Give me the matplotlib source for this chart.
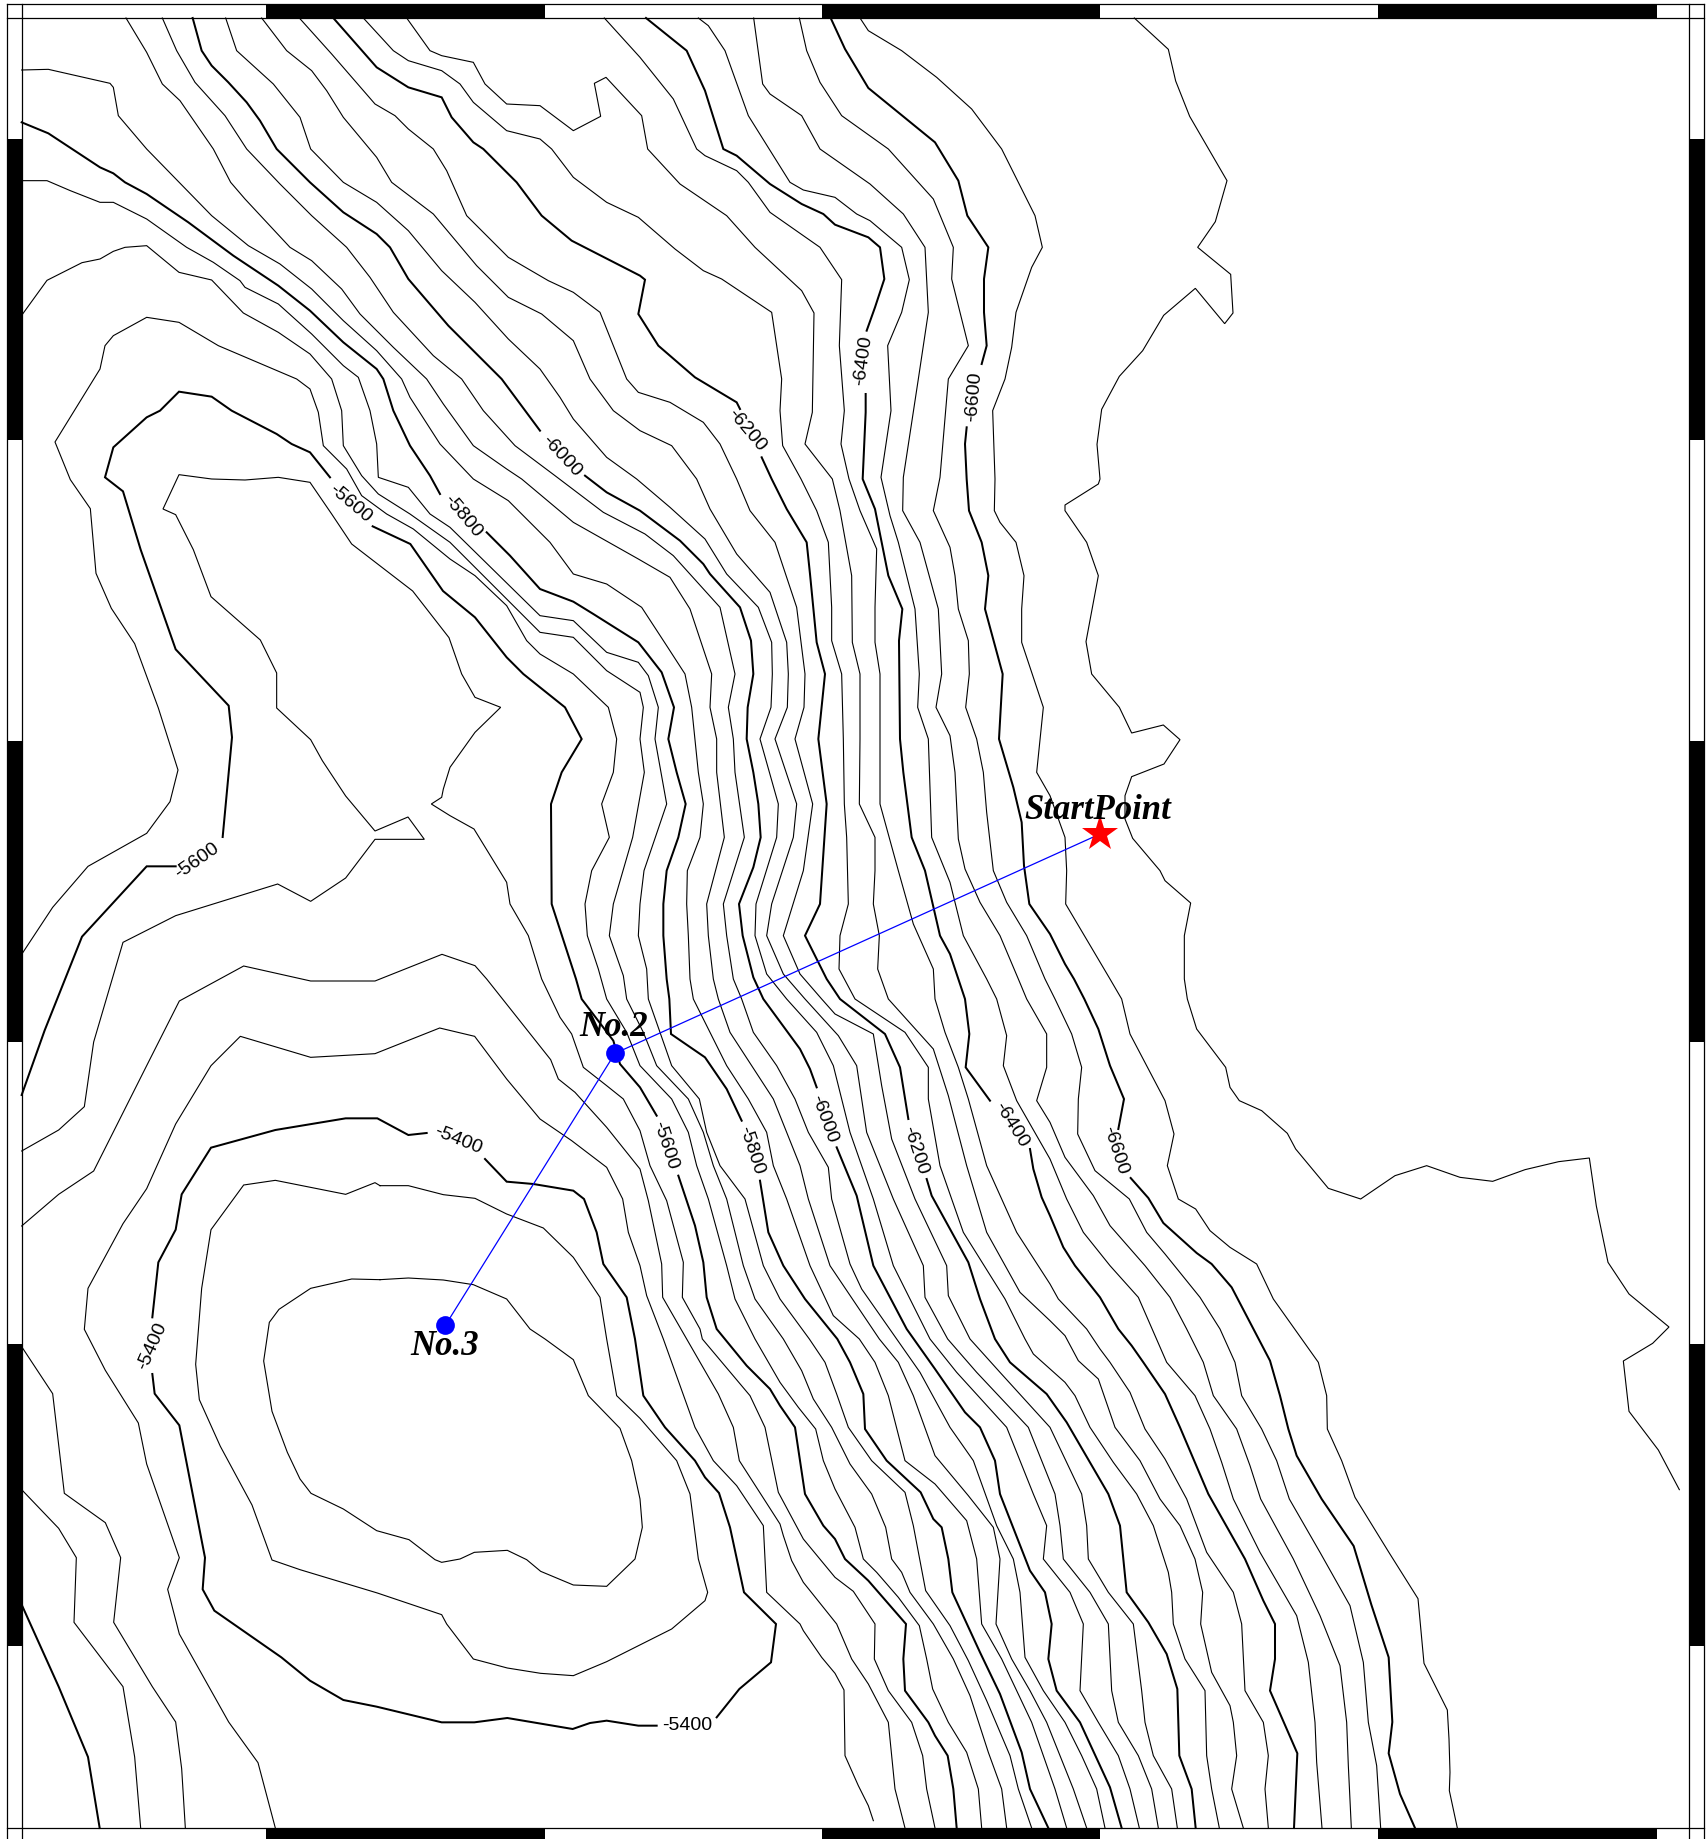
import numpy as np
import matplotlib
matplotlib.use("Agg")
import matplotlib.pyplot as plt

# map units (y goes down)
W, H = 5121, 5520
GAP = (np.nan, np.nan)

# bold contours, GAP = where the label sits
c_5400 = [(1455,3480),(1520,3548),(1600,3555),(1720,3575),(1752,3600),(1790,3700),(1810,3795),(1880,3895),(1905,4020),
          (1930,4190),(1995,4285),(2085,4385),(2115,4435),(2157,4482),(2190,4585),(2232,4780),(2328,4875),(2313,4990),
          (2218,5070),(2150,5155),GAP,(1970,5180),(1915,5180),(1820,5165),(1770,5172),(1718,5190),(1522,5157),(1423,5170),
          (1325,5170),(1130,5123),(1030,5103),(930,5045),(844,4975),(643,4835),(608,4771),(615,4676),(538,4279),(464,4184),
          (457,4125),GAP,(457,3955),(475,3790),(527,3692),(545,3586),(633,3446),(826,3393),(1037,3358),(1132,3358),(1225,3408),(1280,3402)]
c_5600 = [(65,3288),(134,3094),(246,2813),(440,2602),(527,2602),GAP,(668,2514),(696,2215),(686,2120),(527,1951),(422,1652),
          (369,1477),(315,1435),(340,1345),(440,1255),(480,1235),(537,1178),(635,1193),(695,1235),(830,1305),(875,1335),
          (930,1360),(990,1435),GAP,(1118,1582),(1231,1635),(1329,1776),(1425,1855),(1520,1975),(1570,2025),(1695,2125),
          (1745,2220),(1685,2320),(1653,2415),(1655,2715),(1728,2940),(1745,3000),(1840,3125),(1860,3195),(1920,3265),
          (1970,3350),GAP,(2035,3530),(2085,3680),(2110,3790),(2120,3895),(2150,3990),(2240,4100),(2310,4170),(2340,4220),
          (2385,4285),(2415,4485),(2470,4580),(2505,4620),(2535,4680),(2605,4745),(2718,4875),(2710,4980),(2715,5075),
          (2785,5170),(2805,5210),(2843,5270),(2860,5370),(2870,5487)]
c_5600_sw = [(65,4817),(176,5063),(264,5274),(299,5487)]
c_5800 = [(65,370),(145,403),(300,505),(340,523),(375,550),(440,585),(565,670),(700,770),(835,860),(930,935),(1030,1030),
          (1130,1110),(1150,1140),(1180,1235),(1230,1340),(1290,1430),(1320,1485),GAP,(1460,1600),(1530,1670),(1620,1770),
          (1720,1808),(1780,1845),(1915,1930),(1985,2020),(2022,2125),(2005,2220),(2030,2320),(2057,2415),(2035,2515),
          (2000,2615),(1990,2715),(1990,2810),(2000,2940),(2008,3000),(2013,3105),(2115,3175),(2180,3270),(2225,3365),GAP,
          (2280,3545),(2305,3700),(2350,3800),(2415,3900),(2512,4020),(2550,4090),(2590,4185),(2595,4290),(2660,4385),
          (2762,4480),(2800,4560),(2825,4585),(2845,4680),(2857,4780),(2940,4960),(3000,5085),(3065,5260),(3090,5370),(3145,5487)]
c_6000 = [(578,57),(605,155),(635,200),(685,250),(740,310),(780,365),(830,450),(930,550),(1030,640),(1130,705),(1170,745),
          (1225,840),(1345,980),(1505,1140),(1620,1295),GAP,(1755,1430),(1820,1480),(1920,1535),(2040,1625),(2110,1695),
          (2130,1725),(2220,1825),(2253,1925),(2260,2025),(2243,2125),(2240,2220),(2260,2320),(2275,2415),(2282,2515),
          (2260,2605),(2217,2715),(2228,2810),(2260,2935),(2290,3000),(2400,3150),(2430,3210),(2450,3265),GAP,(2510,3445),
          (2570,3590),(2620,3800),(2720,3990),(2805,4110),(2895,4240),(2940,4285),(2985,4385),(3000,4485),(3090,4715),
          (3135,4780),(3155,4875),(3145,4980),(3170,5075),(3240,5170),(3330,5365),(3365,5487)]
c_6200 = [(1000,57),(1130,205),(1225,265),(1325,295),(1355,355),(1420,430),(1450,450),(1550,550),(1625,650),(1715,725),
          (1920,830),(1935,842),(1915,945),(1975,1040),(2085,1135),(2210,1210),(2220,1230),GAP,(2285,1375),(2315,1440),
          (2360,1530),(2420,1630),(2430,1725),(2450,1930),(2475,2025),(2455,2220),(2480,2415),(2460,2715),(2415,2810),
          (2480,2940),(2520,3000),(2655,3105),(2700,3205),(2725,3360),GAP,(2780,3540),(2795,3590),(2905,3790),(2940,3900),
          (2985,4020),(3030,4090),(3140,4185),(3200,4270),(3325,4485),(3360,4580),(3380,4780),(3445,4870),(3500,4965),
          (3532,5070),(3538,5270),(3575,5370),(3587,5487)]
c_6400 = [(1938,57),(2060,155),(2115,275),(2170,450),(2210,470),(2310,555),(2405,615),(2470,645),(2505,677),(2605,715),
          (2640,745),(2653,840),(2625,925),(2600,995),GAP,(2597,1185),(2597,1240),(2588,1440),(2625,1530),(2665,1730),
          (2707,1830),(2697,1925),(2700,2220),(2710,2320),(2735,2515),(2775,2615),(2820,2810),(2850,2865),(2895,3000),
          (2908,3105),(2897,3205),(2970,3305),GAP,(3090,3450),(3100,3510),(3125,3595),(3150,3650),(3190,3745),(3225,3800),
          (3300,3895),(3355,3990),(3395,4040),(3430,4090),(3495,4185),(3540,4285),(3625,4485),(3735,4680),(3790,4805),
          (3825,4875),(3825,4980),(3810,5075),(3892,5263),(3882,5487)]
c_6600 = [(2492,57),(2535,150),(2605,267),(2805,430),(2875,545),(2902,650),(2965,745),(2952,840),(2952,940),(2960,1040),
          (2945,1095),GAP,(2900,1285),(2895,1335),(2900,1440),(2907,1535),(2945,1630),(2965,1730),(2955,1830),(3008,2025),
          (2997,2220),(3040,2365),(3065,2470),(3072,2600),(3088,2715),(3150,2805),(3195,2895),(3222,2940),(3253,3000),
          (3295,3090),(3330,3200),(3372,3300),(3355,3390),GAP,(3392,3537),(3445,3597),(3490,3672),(3590,3762),(3635,3795),
          (3695,3865),(3810,4085),(3840,4190),(3865,4290),(3890,4370),(3965,4500),(4061,4641),(4114,4817),(4166,4975),
          (4177,5169),(4166,5263),(4200,5385),(4245,5487)]
bold_lines = [c_5400, c_5600, c_5600_sw, c_5800, c_6000, c_6200, c_6400, c_6600]

# thin contours
c_5300 = [(1140,3842),(1225,3837),(1330,3843),(1420,3857),(1520,3900),(1590,3990),(1635,4020),(1720,4082),(1765,4190),
          (1860,4288),(1895,4385),(1920,4500),(1927,4585),(1905,4680),(1820,4762),(1720,4758),(1622,4717),(1580,4682),
          (1522,4654),(1423,4660),(1380,4680),(1325,4690),(1305,4682),(1227,4622),(1130,4595),(1030,4530),(933,4483),
          (900,4440),(862,4360),(816,4237),(791,4086),(808,3970),(837,3931),(932,3868),(1055,3840),(1140,3842)]
c_5350 = [(1140,3560),(1225,3560),(1330,3587),(1425,3598),(1520,3645),(1630,3687),(1720,3775),(1800,3895),(1820,4020),
          (1850,4190),(1920,4258),(2030,4385),(2070,4485),(2095,4680),(2123,4780),(2115,4805),(2015,4890),(1820,4988),
          (1720,5030),(1622,5023),(1522,5007),(1420,4980),(1340,4875),(1325,4847),(1132,4782),(900,4712),(816,4683),
          (756,4518),(661,4342),(598,4202),(587,4096),(605,3868),(633,3692),(731,3558),(826,3544),(1037,3586),(1125,3551),(1140,3560)]
c_5450 = [(826,5487),(774,5291),(686,5169),(538,4905),(503,4771),(538,4676),(440,4395),(415,4272),(316,4114),(253,3991),
          (264,3868),(369,3674),(440,3569),(527,3375),(633,3200),(721,3112),(932,3175),(1125,3164),(1319,3087),(1424,3112),
          (1520,3240),(1620,3360),(1715,3425),(1820,3505),(1868,3600),(1885,3700),(1920,3800),(1940,3890),(1990,4020),
          (2085,4285),(2140,4385),(2210,4460),(2290,4580),(2300,4780),(2400,4875),(2410,4895),(2465,4975),(2505,5023),
          (2532,5073),(2535,5270),(2575,5360),(2605,5420),(2620,5465)]
c_5500 = [(65,3681),(176,3586),(281,3516),(352,3375),(440,3200),(538,3006),(731,2901),(932,2946),(1125,2946),(1326,2866),
          (1425,2900),(1460,2940),(1652,3182),(1675,3240),(1725,3280),(1820,3385),(1920,3510),(1945,3605),(1985,3795),
          (1988,3895),(2060,4020),(2155,4185),(2200,4285),(2218,4385),(2340,4575),(2350,4610),(2375,4685),(2410,4750),
          (2510,4875),(2555,4980),(2605,5055),(2665,5170),(2685,5370),(2715,5487)]
c_5500_sw = [(65,4043),(158,4184),(193,4483),(316,4571),(362,4676),(341,4870),(457,5063),(527,5169),(545,5309),(556,5487)]
c_5550 = [(65,3456),(176,3393),(253,3323),(281,3129),(369,2830),(527,2750),(833,2655),(932,2707),(1037,2637),(1125,2521),
          (1273,2521),(1224,2454),(1125,2496),(1037,2391),(967,2285),(932,2222),(830,2127),(830,2022),(781,1923),(633,1793),
          (580,1652),(527,1547),(489,1530),(537,1427),(635,1440),(735,1443),(835,1435),(930,1450),(995,1545),(1055,1635),
          (1238,1776),(1347,1916),(1385,2025),(1425,2095),(1502,2125),(1425,2200),(1350,2305),(1330,2370),(1325,2395),
          (1294,2415),(1350,2450),(1422,2490),(1520,2650),(1530,2715),(1585,2810),(1625,2940),(1680,3055),(1715,3105),
          (1750,3205),(1820,3260),(1870,3300),(1920,3395),(1950,3500),(2000,3605),(2050,3790),(2047,3895),(2100,3990),
          (2107,4020),(2250,4190),(2295,4285),(2335,4480),(2410,4620),(2505,4735),(2560,4777),(2625,4875),(2623,4980),
          (2665,5075),(2735,5170),(2768,5270),(2780,5370),(2805,5487)]
c_5550_sw = [(65,4472),(176,4588),(229,4676),(222,4870),(369,5063),(404,5274),(422,5487)]
c_5650 = [(65,2866),(158,2725),(264,2602),(440,2503),(510,2408),(534,2313),(475,2127),(404,1934),(334,1828),(288,1723),
          (271,1529),(211,1442),(165,1329),(300,1110),(315,1040),(340,1010),(440,955),(537,970),(655,1040),(890,1140),
          (930,1170),(955,1240),(970,1340),(1040,1410),(1085,1490),(1160,1545),(1240,1590),(1350,1680),(1425,1730),
          (1520,1820),(1580,1925),(1620,1965),(1720,2025),(1825,2125),(1850,2220),(1840,2320),(1805,2415),(1828,2515),
          (1775,2615),(1755,2715),(1762,2810),(1795,2910),(1820,3000),(1880,3100),(1920,3200),(2015,3300),(2065,3400),
          (2090,3500),(2125,3600),(2180,3800),(2205,3900),(2265,4020),(2340,4150),(2395,4225),(2447,4290),(2470,4385),
          (2505,4470),(2565,4585),(2590,4680),(2630,4720),(2695,4795),(2758,4880),(2780,4980),(2798,5070),(2845,5170),
          (2900,5260),(2935,5370),(2945,5487)]
c_5700 = [(65,949),(141,844),(246,791),(300,780),(340,757),(375,745),(440,740),(537,820),(635,843),(730,942),(835,1000),
          (930,1065),(995,1140),(1025,1235),(1030,1340),(1085,1430),(1135,1485),(1230,1545),(1350,1630),(1425,1705),
          (1620,1900),(1720,1915),(1820,2015),(1920,2080),(1930,2125),(1920,2220),(1933,2320),(1898,2515),(1840,2715),
          (1828,2810),(1870,2930),(1880,3000),(1930,3100),(1970,3200),(2065,3300),(2110,3400),(2140,3500),(2180,3600),
          (2230,3800),(2265,3900),(2350,4020),(2405,4115),(2440,4200),(2495,4285),(2550,4395),(2615,4485),(2657,4585),
          (2675,4680),(2705,4720),(2730,4780),(2800,4875),(2860,4980),(2910,5090),(2965,5260),(3005,5370),(3020,5487)]
c_5750 = [(65,545),(141,545),(211,575),(300,610),(340,610),(440,660),(560,745),(640,790),(720,845),(735,865),(835,915),
          (935,1005),(1030,1100),(1075,1135),(1110,1235),(1130,1335),(1135,1435),(1225,1465),(1290,1545),(1350,1585),
          (1620,1850),(1720,1865),(1820,1960),(1915,1990),(1945,2030),(1975,2125),(1965,2220),(2000,2415),(1932,2615),
          (1920,2715),(1915,2810),(1940,2910),(1945,3000),(1980,3100),(2015,3200),(2098,3300),(2120,3400),(2160,3500),
          (2235,3600),(2290,3800),(2340,3900),(2428,4020),(2475,4090),(2510,4185),(2545,4285),(2615,4385),(2715,4480),
          (2740,4580),(2777,4775),(2850,4880),(2905,4985),(2960,5105),(3030,5270),(3055,5370),(3095,5487)]
c_5850 = [(65,213),(145,211),(330,253),(340,265),(355,350),(440,450),(635,650),(745,740),(840,795),(935,870),(1030,965),
          (1130,1055),(1205,1140),(1230,1195),(1320,1335),(1420,1440),(1525,1505),(1650,1630),(1720,1725),(1820,1755),
          (1925,1825),(2000,1940),(2055,2025),(2075,2125),(2095,2320),(2110,2415),(2100,2515),(2062,2615),(2060,2715),
          (2065,2810),(2070,2940),(2080,3000),(2130,3100),(2180,3200),(2245,3300),(2300,3400),(2320,3500),(2360,3600),
          (2430,3800),(2500,3950),(2578,4020),(2625,4090),(2665,4190),(2715,4385),(2805,4455),(2900,4565),(2930,4680),
          (2945,4875),(3005,4980),(3050,5075),(3095,5170),(3165,5370),(3200,5487)]
c_5900 = [(378,57),(440,160),(487,255),(540,305),(640,450),(692,550),(735,600),(870,745),(935,785),(1025,870),(1080,945),
          (1180,1045),(1280,1140),(1330,1215),(1420,1340),(1520,1410),(1565,1440),(1720,1570),(1915,1680),(2010,1735),
          (2070,1830),(2135,2025),(2130,2125),(2150,2220),(2150,2320),(2173,2515),(2120,2715),(2125,2810),(2140,2940),
          (2155,3000),(2190,3100),(2255,3200),(2320,3300),(2360,3400),(2400,3500),(2425,3600),(2490,3800),(2638,4020),
          (2695,4090),(2740,4190),(2805,4370),(2905,4490),(2980,4585),(3000,4680),(2988,4875),(3035,4980),(3090,5075),
          (3140,5170),(3220,5370),(3260,5487)]
c_5950 = [(487,57),(530,155),(585,250),(675,350),(740,450),(840,555),(935,650),(1040,745),(1110,835),(1180,940),(1300,1070),
          (1385,1140),(1450,1235),(1545,1340),(1665,1430),(1810,1540),(1935,1605),(2020,1670),(2160,1825),(2205,2025),
          (2185,2125),(2200,2220),(2205,2320),(2233,2515),(2170,2715),(2180,2810),(2200,2940),(2225,3000),(2260,3100),
          (2330,3200),(2385,3300),(2425,3400),(2485,3505),(2495,3600),(2550,3795),(2585,3870),(2690,4020),(2760,4120),
          (2850,4285),(2920,4385),(2990,4580),(3040,4680),(3060,4780),(3075,4975),(3130,5075),(3195,5170),(3245,5270),
          (3290,5370),(3315,5487)]
c_6050 = [(677,57),(710,155),(820,255),(900,355),(932,450),(1030,550),(1130,610),(1225,695),(1325,815),(1425,910),(1525,1020),
          (1620,1110),(1680,1195),(1720,1260),(1820,1375),(1910,1440),(2010,1525),(2115,1620),(2180,1725),(2275,1825),
          (2315,1930),(2317,2025),(2313,2125),(2280,2220),(2335,2415),(2330,2515),(2268,2715),(2265,2810),(2300,2925),
          (2360,3000),(2450,3100),(2500,3200),(2550,3400),(2620,3600),(2680,3800),(2790,4020),(2870,4120),(3020,4285),
          (3100,4485),(3140,4580),(3130,4680),(3210,4780),(3250,4875),(3240,5075),(3295,5170),(3355,5270),(3390,5370),(3418,5487)]
c_6100 = [(785,57),(860,155),(935,215),(980,275),(1030,355),(1130,475),(1175,550),(1300,645),(1430,800),(1525,895),(1625,945),
          (1720,1025),(1770,1140),(1840,1235),(1920,1295),(2015,1340),(2090,1440),(2130,1530),(2210,1665),(2310,1780),
          (2360,1930),(2365,2025),(2362,2125),(2325,2220),(2390,2415),(2380,2515),(2315,2715),(2300,2810),(2350,2925),
          (2415,3000),(2515,3110),(2570,3200),(2600,3400),(2680,3600),(2770,3800),(2775,3895),(2843,4020),(2930,4120),
          (3085,4285),(3165,4485),(3180,4580),(3190,4680),(3270,4780),(3325,4875),(3335,5075),(3355,5170),(3415,5270),
          (3455,5370),(3475,5487)]
c_6150 = [(898,57),(995,165),(1125,315),(1185,350),(1225,390),(1300,450),(1340,515),(1400,650),(1525,775),(1645,845),
          (1720,880),(1800,940),(1880,1140),(1915,1180),(2010,1210),(2110,1270),(2160,1335),(2210,1440),(2250,1535),
          (2325,1630),(2390,1825),(2415,2025),(2412,2125),(2385,2220),(2438,2415),(2410,2615),(2350,2810),(2400,2925),
          (2465,3000),(2505,3045),(2620,3105),(2645,3260),(2675,3420),(2745,3600),(2840,3800),(2845,3890),(2910,4020),
          (3000,4120),(3150,4285),(3245,4485),(3260,4580),(3265,4680),(3325,4780),(3400,4875),(3425,5075),(3435,5170),
          (3460,5270),(3515,5370),(3532,5487)]
c_6250 = [(1090,57),(1180,155),(1225,185),(1325,215),(1380,255),(1420,310),(1520,395),(1620,420),(1655,450),(1720,535),
          (1820,610),(1915,655),(2025,750),(2110,815),(2165,840),(2315,940),(2345,1140),(2340,1235),(2348,1340),(2403,1440),
          (2450,1535),(2485,1630),(2495,1825),(2495,1925),(2525,2025),(2530,2220),(2533,2415),(2540,2515),(2545,2715),
          (2520,2810),(2517,2910),(2565,3000),(2715,3100),(2785,3205),(2785,3300),(2820,3500),(2890,3700),(3015,3900),
          (3075,4020),(3100,4065),(3195,4150),(3225,4190),(3270,4285),(3340,4390),(3410,4485),(3460,4580),(3505,4720),
          (3515,4780),(3520,4875),(3555,4980),(3615,5075),(3620,5270),(3635,5370),(3658,5487)]
c_6300 = [(1220,57),(1290,155),(1325,170),(1420,190),(1455,255),(1520,315),(1620,320),(1720,395),(1802,352),(1783,253),
          (1818,235),(1925,350),(1943,450),(2040,555),(2180,650),(2265,745),(2405,875),(2442,942),(2437,1240),(2415,1335),
          (2497,1440),(2520,1535),(2555,1730),(2557,1930),(2580,2025),(2580,2220),(2578,2415),(2625,2515),(2625,2615),
          (2620,2715),(2638,2810),(2633,2910),(2665,3000),(2755,3100),(2800,3150),(2845,3290),(2900,3500),(2960,3700),
          (3060,3880),(3150,3965),(3195,4010),(3235,4085),(3295,4140),(3345,4285),(3420,4385),(3480,4500),(3540,4580),
          (3585,4680),(3608,4780),(3602,4875),(3635,5020),(3690,5120),(3700,5170),(3710,5270),(3695,5370),(3730,5487)]
c_6350 = [(1813,57),(1920,175),(2020,300),(2090,450),(2115,470),(2210,515),(2245,550),(2310,640),(2460,745),(2525,842),
          (2518,1040),(2533,1235),(2523,1335),(2547,1440),(2580,1535),(2630,1650),(2625,1825),(2625,1930),(2640,2025),
          (2640,2415),(2695,2615),(2740,2775),(2800,2910),(2805,3000),(2835,3100),(2875,3205),(2905,3300),(2960,3500),
          (3050,3700),(3150,3855),(3175,3900),(3260,3990),(3300,4050),(3330,4090),(3390,4180),(3435,4290),(3495,4380),
          (3560,4500),(3620,4660),(3700,4780),(3725,4875),(3735,5075),(3790,5170),(3805,5270),(3795,5370),(3805,5487)]
c_6450 = [(2095,57),(2125,80),(2175,155),(2245,350),(2370,550),(2410,573),(2505,595),(2570,645),(2610,665),(2705,745),
          (2728,842),(2705,940),(2663,1040),(2673,1235),(2643,1435),(2670,1550),(2695,1630),(2745,1830),(2758,2025),
          (2753,2125),(2785,2220),(2795,2515),(2850,2650),(2890,2810),(2960,2940),(2990,3000),(3020,3110),(3010,3200),
          (3050,3305),(3150,3480),(3200,3600),(3250,3700),(3330,3800),(3415,3895),(3500,4090),(3585,4190),(3630,4290),
          (3665,4390),(3700,4500),(3780,4660),(3890,4850),(3925,4990),(3945,5170),(3950,5290),(3966,5487)]
c_6500 = [(2261,57),(2288,255),(2310,285),(2405,350),(2460,450),(2610,555),(2710,645),(2775,745),(2785,940),(2755,1140),
          (2710,1435),(2708,1535),(2760,1630),(2815,1830),(2825,2025),(2808,2125),(2850,2210),(2865,2320),(2875,2520),
          (2895,2610),(2940,2710),(3000,2810),(3055,2940),(3080,3000),(3140,3105),(3140,3205),(3110,3305),(3150,3370),
          (3195,3475),(3280,3590),(3330,3680),(3435,3800),(3510,3895),(3560,3990),(3610,4090),(3640,4190),(3710,4290),
          (3750,4400),(3782,4500),(3880,4680),(3960,4850),(4020,5000),(4040,5170),(4045,5300),(4054,5487)]
c_6550 = [(2398,57),(2420,155),(2460,250),(2525,350),(2665,450),(2800,600),(2860,745),(2855,840),(2905,1040),(2845,1140),
          (2820,1435),(2800,1535),(2850,1645),(2865,1730),(2875,1830),(2905,1925),(2908,2025),(2897,2125),(2930,2220),
          (2950,2320),(2960,2440),(2980,2615),(3020,2710),(3080,2810),(3135,2940),(3165,3000),(3215,3105),(3245,3205),
          (3235,3300),(3233,3405),(3285,3515),(3388,3600),(3440,3700),(3495,3765),(3600,3895),(3660,3990),(3705,4090),
          (3725,4190),(3785,4290),(3830,4385),(3868,4500),(3960,4660),(4050,4820),(4090,4990),(4105,5170),(4130,5300),(4142,5487)]
c_6650 = [(2580,57),(2605,95),(2705,155),(2810,235),(2915,330),(3005,450),(3105,650),(3127,745),(3095,805),(3048,940),
          (3035,1045),(3015,1140),(2978,1235),(2985,1440),(2983,1535),(3000,1570),(3048,1630),(3072,1730),(3065,1830),
          (3065,1930),(3130,2125),(3110,2320),(3150,2390),(3195,2515),(3200,2615),(3197,2715),(3330,2940),(3365,3000),
          (3390,3105),(3495,3305),(3522,3405),(3502,3500),(3535,3600),(3587,3630),(3630,3695),(3690,3745),(3770,3795),
          (3820,3900),(3955,4090),(3980,4190),(3982,4290),(4025,4385),(4065,4495),(4166,4659),(4254,4799),(4272,4993),
          (4342,5133),(4347,5220),(4350,5320),(4348,5375),(4372,5487)]
c_6700 = [(3403,57),(3505,151),(3527,246),(3569,352),(3681,545),(3646,668),(3593,745),(3692,826),(3699,942),(3674,974),
          (3586,868),(3491,949),(3428,1055),(3358,1132),(3305,1231),(3291,1336),(3300,1440),(3295,1455),(3195,1518),
          (3195,1535),(3260,1630),(3295,1730),(3258,1928),(3275,2025),(3358,2125),(3395,2202),(3490,2178),(3540,2222),
          (3492,2295),(3395,2333),(3375,2390),(3375,2460),(3398,2518),(3480,2615),(3495,2645),(3572,2712),(3553,2810),
          (3553,2940),(3562,3000),(3590,3090),(3677,3205),(3690,3265),(3718,3305),(3785,3335),(3862,3403),(3887,3450),
          (3985,3568),(4082,3600),(4185,3530),(4280,3500),(4380,3535),(4478,3547),(4575,3512),(4676,3488),(4768,3477),
          (4789,3621),(4824,3790),(4887,3885),(5007,3984),(4958,4033),(4870,4086),(4887,4237),(4975,4353),(5038,4472)]
thin_lines = [c_5300, c_5350, c_5450, c_5500, c_5500_sw, c_5550, c_5550_sw, c_5650, c_5700, c_5750, c_5850, c_5900, c_5950,
              c_6050, c_6100, c_6150, c_6250, c_6300, c_6350, c_6450, c_6500, c_6550, c_6650, c_6700]

# contour labels: text, x, y, angle
labels = [("-5400",1375,3420,-22),("-5400",457,4040,66),("-5400",2062,5178,0),
          ("-5600",1050,1512,-40),("-5600",591,2584,35),("-5600",1995,3437,-72),
          ("-5800",1389,1550,-50),("-5800",2252,3452,-72),
          ("-6000",1683,1368,-47),("-6000",2472,3357,-70),
          ("-6200",2240,1292,-50),("-6200",2745,3452,-72),
          ("-6400",2590,1083,82),("-6400",3035,3375,-58),
          ("-6600",2920,1190,85),("-6600",3345,3450,-72)]

# survey line
start_xy = (3300,2505)
no2_xy = (1845,3163)
no3_xy = (1336,3979)

# frame bars
bars_x = [(798,1635),(2466,3300),(4134,4970)]
bars_y = [(419,1323),(2226,3130),(4035,4940)]
frame_out = (21,14,5112,5525)
frame_in = (65,56,5068,5487)

fig = plt.figure(figsize=(17.07,18.40), dpi=100)
ax = fig.add_axes([0,0,1,1])
ax.set_xlim(0,W)
ax.set_ylim(H,0)
ax.axis("off")

for line in thin_lines:
    pts = np.array(line, dtype=float)
    ax.plot(pts[:,0], pts[:,1], color="black", lw=0.8, solid_joinstyle="miter")
for line in bold_lines:
    pts = np.array(line, dtype=float)
    ax.plot(pts[:,0], pts[:,1], color="black", lw=1.45, solid_joinstyle="miter")

for txt, x, y, ang in labels:
    ax.text(x, y, txt, rotation=ang, rotation_mode="anchor", ha="center", va="center",
            fontsize=14, family="Liberation Sans", color="black")

# frame
x0, y0, x1, y1 = frame_out
xi0, yi0, xi1, yi1 = frame_in
for a, b in bars_x:
    ax.fill([a,b,b,a], [y0,y0,yi0,yi0], color="black", lw=0)
    ax.fill([a,b,b,a], [yi1,yi1,y1,y1], color="black", lw=0)
for a, b in bars_y:
    ax.fill([x0,xi0,xi0,x0], [a,a,b,b], color="black", lw=0)
    ax.fill([xi1,x1,x1,xi1], [a,a,b,b], color="black", lw=0)
for bx in (x0, xi0, xi1, x1):
    ax.plot([bx,bx], [y0,y1], color="black", lw=0.9)
for by in (y0, yi0, yi1, y1):
    ax.plot([x0,x1], [by,by], color="black", lw=0.9)

# survey line and points
ax.plot([start_xy[0],no2_xy[0],no3_xy[0]], [start_xy[1],no2_xy[1],no3_xy[1]], color="blue", lw=0.9, zorder=4)
ax.plot(*no2_xy, "o", color="blue", ms=13.5, mew=0, zorder=5)
ax.plot(*no3_xy, "o", color="blue", ms=13.5, mew=0, zorder=5)
ax.plot(*start_xy, "*", color="red", ms=27, mew=0, zorder=5)

serif = dict(family="Liberation Serif", style="italic", weight="bold", fontsize=25,
             ha="center", va="center", color="black", zorder=6)
ax.text(3293, 2431, "StartPoint", **serif)
ax.text(1841, 3083, "No.2", **serif)
ax.text(1333, 4039, "No.3", **serif)

fig.savefig("out.png", dpi=100)
